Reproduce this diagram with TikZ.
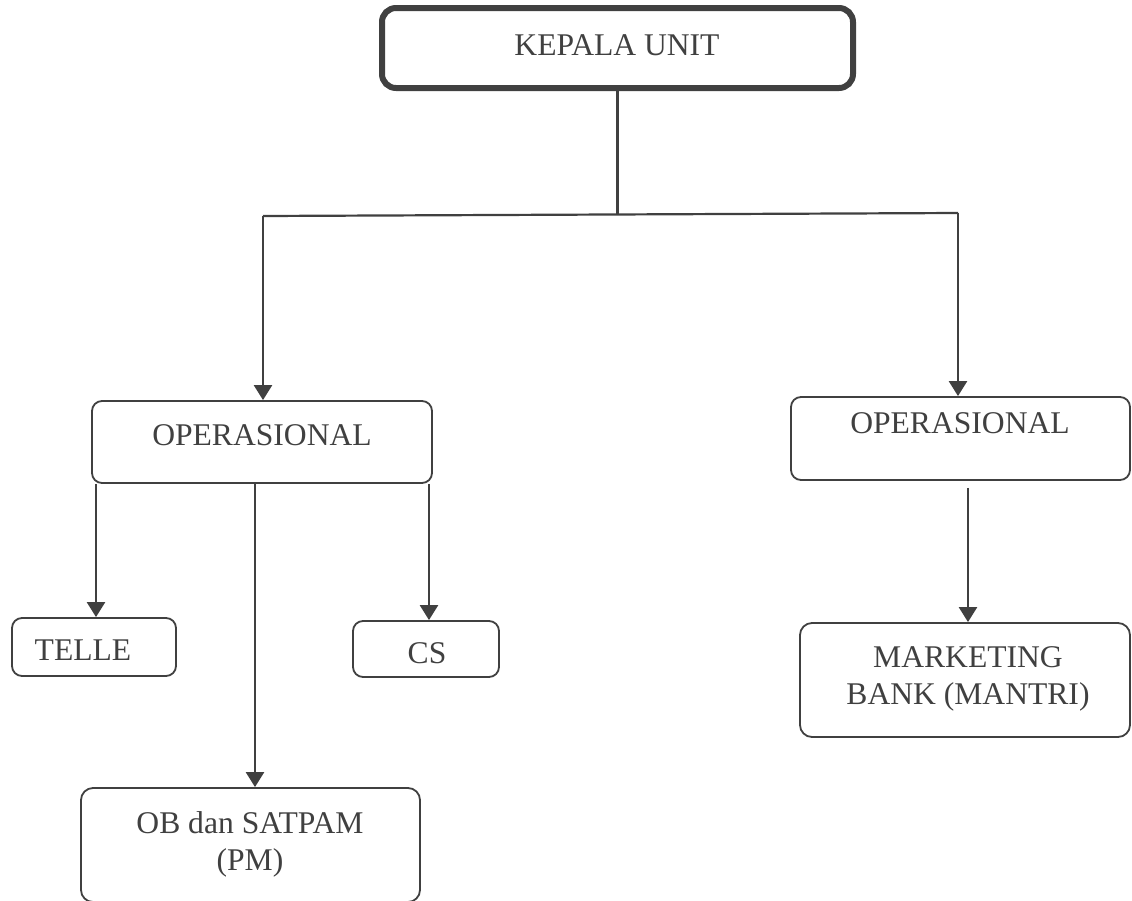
\documentclass[tikz,border=0pt]{standalone}
\usepackage{fontspec}
\setmainfont{Liberation Serif}
\usetikzlibrary{arrows.meta}
\definecolor{ink}{HTML}{404040}

\begin{document}
\begin{tikzpicture}[x=0.5pt, y=-0.5pt,
		box/.style={draw=ink, line width=0.9pt, rounded corners=5pt, inner sep=0pt},
		head/.style={box, line width=3pt, rounded corners=7pt},
		lbl/.style={text=ink, inner sep=0pt, align=center, font=\fontsize{15.8}{18.5}\selectfont},
		arr/.style={draw=ink, line width=1.2pt, -{Triangle[width=9pt, length=7.5pt]}},
		link/.style={draw=ink, line width=1.1pt}]
		\useasboundingbox (0,0) rectangle (1132,901);
		% boxes
		\node[head, minimum width=235.5pt, minimum height=40pt] (kepala) at (617.5,48) {};
		\node[box, minimum width=170pt, minimum height=41pt] (opl) at (262,442) {};
		\node[box, minimum width=169.5pt, minimum height=41.5pt] (opr) at (960.5,438.5) {};
		\node[box, minimum width=82pt, minimum height=29pt] (telle) at (94,647) {};
		\node[box, minimum width=73pt, minimum height=28pt] (cs) at (426,649) {};
		\node[box, rounded corners=6pt, minimum width=169.5pt, minimum height=57pt] (ob) at (250.5,845) {};
		\node[box, rounded corners=6pt, minimum width=165pt, minimum height=57pt] (mkt) at (965,680) {};
		% texts
		\node[lbl] (kepala-t) at (617,45) {KEPALA UNIT};
		\node[lbl] (opl-t) at (262,435) {OPERASIONAL};
		\node[lbl] (opr-t) at (960,423) {OPERASIONAL};
		\node[lbl] (telle-t) at (83,650) {TELLE};
		\node[lbl] (cs-t) at (427,653) {CS};
		\node[lbl] (ob-t) at (250,844) {OB dan SATPAM\\(PM)};
		\node[lbl] (mkt-t) at (968,679) {MARKETING\\BANK (MANTRI)};
		% connectors
		\coordinate (bl) at (263,216);
		\coordinate (br) at (958,213);
		\draw[link] (kepala.south) -- (kepala.south |- 0,214.5);
		\draw[link] (bl) -- (br);
		\draw[arr] (bl) -- (bl |- opl.north);
		\draw[arr] (br) -- (br |- opr.north);
		\draw[arr] (opl.south -| 96,0) -- (telle.north -| 96,0);
		\draw[arr] (opl.south -| 429,0) -- (cs.north -| 429,0);
		\draw[arr] (opl.south -| 255,0) -- (ob.north -| 255,0);
		\draw[arr] ([yshift=-3.5pt]opr.south -| 968,0) -- (mkt.north -| 968,0);
	\end{tikzpicture}
\end{document}
